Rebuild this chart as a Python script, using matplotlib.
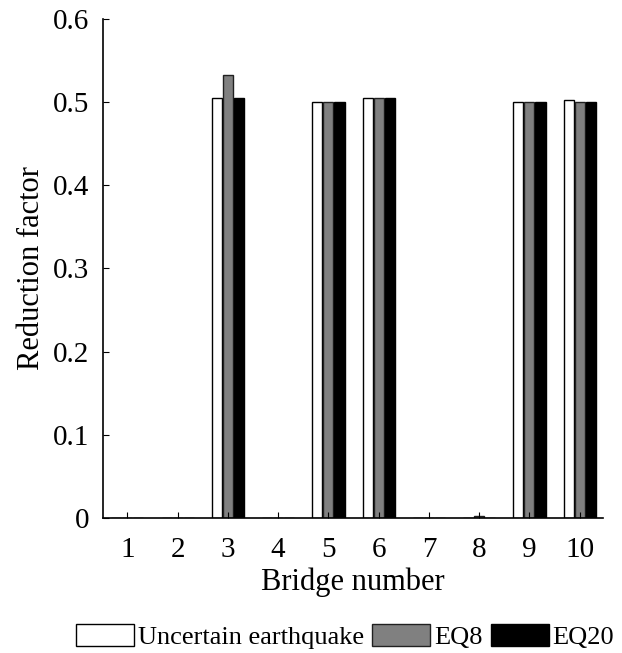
import numpy as np
import matplotlib.pyplot as plt

plt.rcParams['font.family'] = 'Liberation Serif'

bridges = np.arange(1, 11)
uncertain = [0, 0, 0.505, 0, 0.500, 0.505, 0, 0, 0.500, 0.503]
eq8 = [0, 0, 0.533, 0, 0.500, 0.505, 0, 0.002, 0.500, 0.500]
eq20 = [0, 0, 0.505, 0, 0.500, 0.505, 0, 0, 0.500, 0.500]

fig = plt.figure(figsize=(6.22, 6.53), dpi=100)
ax = fig.add_axes([0.166, 0.207, 0.804, 0.764])

w = 0.2
ax.bar(bridges - 0.22, uncertain, w, color='white', edgecolor='black', linewidth=1, label='Uncertain earthquake')
ax.bar(bridges, eq8, w, color='#808080', edgecolor='#202020', linewidth=1, label='EQ8')
ax.bar(bridges + 0.22, eq20, w, color='black', edgecolor='black', linewidth=1, label='EQ20')

ax.set_xlim(0.52, 10.47)
ax.set_ylim(0, 0.6)
ax.set_xticks(bridges)
ax.set_yticks(np.arange(0, 0.61, 0.1))
ax.set_yticklabels(['0', '0.1', '0.2', '0.3', '0.4', '0.5', '0.6'])
ax.tick_params(direction='in', labelsize=21, length=4)
ax.tick_params(axis='x', pad=14)
ax.tick_params(axis='y', pad=10)
ax.spines['top'].set_visible(False)
ax.spines['right'].set_visible(False)
ax.spines['left'].set_linewidth(1.2)
ax.spines['bottom'].set_linewidth(1.2)

ax.set_xlabel('Bridge number', fontsize=22, labelpad=3)
ax.set_ylabel('Reduction factor', fontsize=22, labelpad=5)

fig.legend(loc='center', bbox_to_anchor=(0.555, 0.025), ncol=3, frameon=False,
           fontsize=19, handlelength=2.2, handleheight=0.9, handletextpad=0.15,
           columnspacing=0.3, borderpad=0)

fig.savefig('out.png', dpi=100)
